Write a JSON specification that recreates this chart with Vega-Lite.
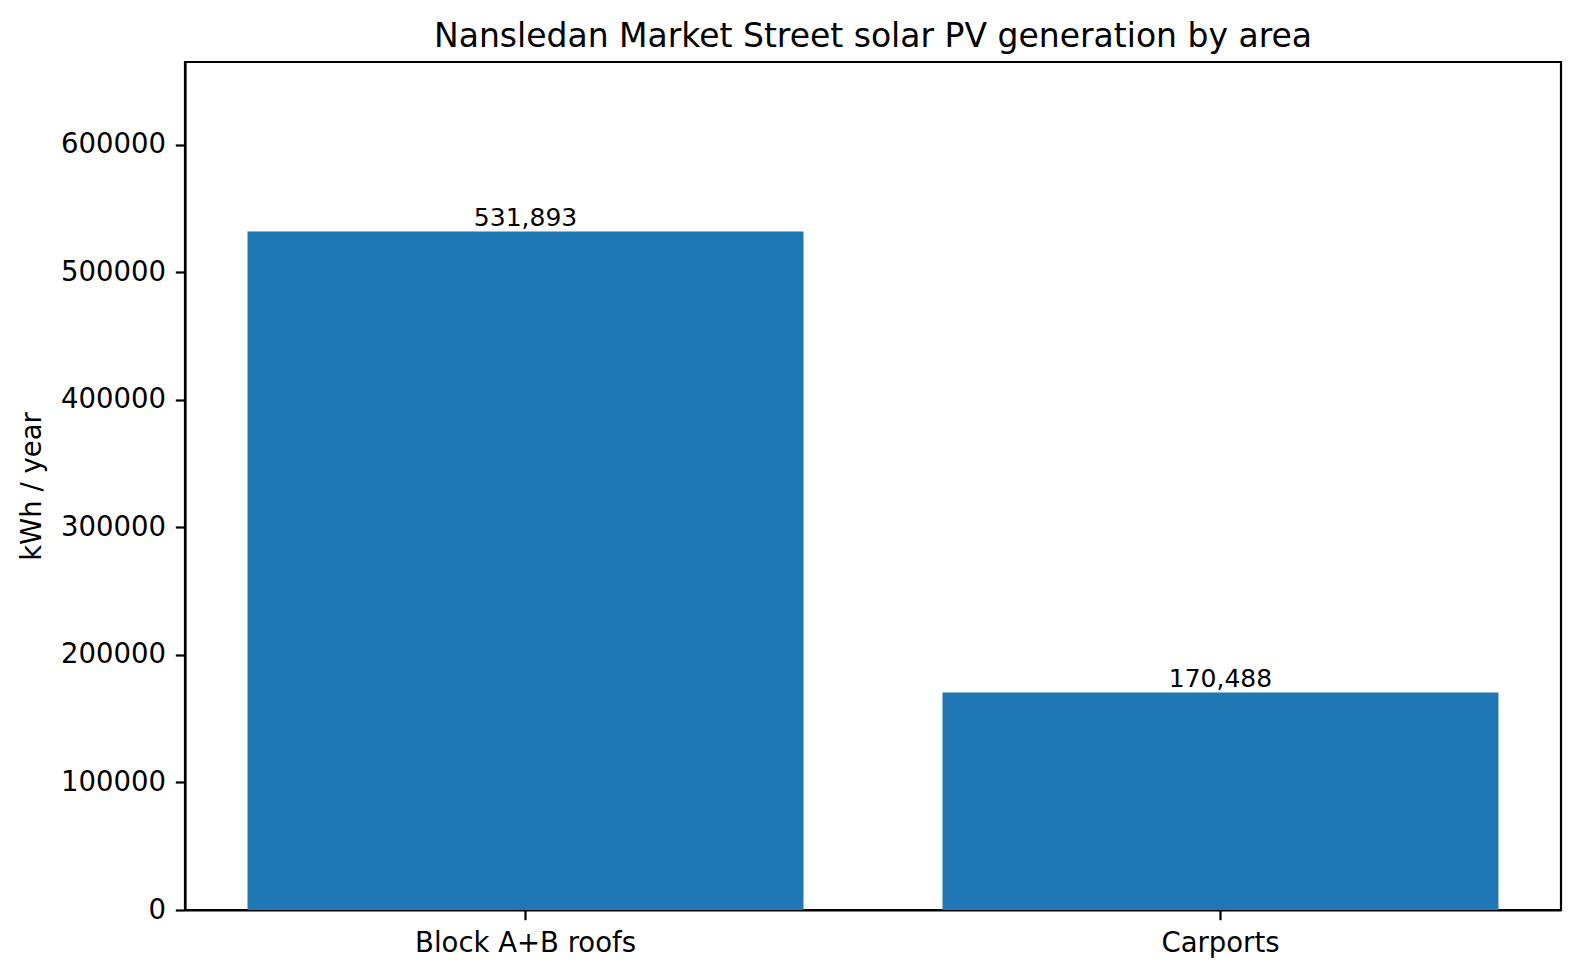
{
  "$schema": "https://vega.github.io/schema/vega-lite/v6.json",
  "autosize": "none",
  "width": 1376,
  "height": 848,
  "padding": {"left": 185, "top": 62, "right": 20, "bottom": 67},
  "background": "white",
  "title": {
    "text": "Nansledan Market Street solar PV generation by area",
    "fontSize": 33,
    "fontWeight": "normal",
    "font": "DejaVu Sans",
    "color": "black",
    "anchor": "middle",
    "baseline": "alphabetic",
    "offset": 17,
    "dy": 35
  },
  "data": {
    "values": [
      {"area": "Block A+B roofs", "kwh": 531893},
      {"area": "Carports", "kwh": 170488}
    ]
  },
  "config": {
    "view": {"stroke": "black", "strokeWidth": 2.2},
    "font": "DejaVu Sans",
    "axis": {
      "grid": false,
      "domainColor": "black",
      "domainWidth": 2.2,
      "tickColor": "black",
      "tickWidth": 2.2,
      "tickSize": 9.7,
      "labelPadding": 9.7,
      "labelLimit": 0,
      "labelFont": "DejaVu Sans",
      "labelFontSize": 27.5,
      "labelColor": "black",
      "titleFont": "DejaVu Sans",
      "titleFontSize": 27.5,
      "titleFontWeight": "normal",
      "titleColor": "black"
    }
  },
  "encoding": {
    "x": {
      "field": "area",
      "type": "nominal",
      "sort": null,
      "scale": {"paddingInner": 0.2, "paddingOuter": 0.09},
      "axis": {"title": null, "labelAngle": 0}
    },
    "y": {
      "field": "kwh",
      "type": "quantitative",
      "scale": {"domain": [0, 664866], "nice": false},
      "axis": {
        "title": "kWh / year",
        "values": [0, 100000, 200000, 300000, 400000, 500000, 600000],
        "format": "d",
        "titlePadding": 14
      }
    }
  },
  "layer": [
    {"mark": {"type": "bar", "color": "#1f77b4"}},
    {
      "mark": {
        "type": "text",
        "baseline": "alphabetic",
        "dy": -6,
        "fontSize": 25,
        "font": "DejaVu Sans",
        "color": "black"
      },
      "encoding": {"text": {"field": "kwh", "type": "quantitative", "format": ","}}
    }
  ]
}
